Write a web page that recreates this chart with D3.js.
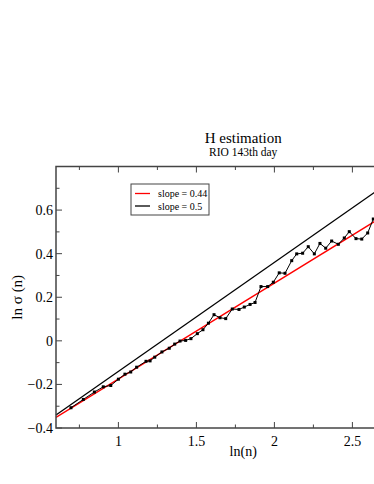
<!DOCTYPE html>
<html>
<head>
<meta charset="utf-8">
<script src="https://cdn.jsdelivr.net/npm/d3@7"></script>
<style>
  body { margin: 0; background: #fff; overflow: hidden; }
  svg { display: block; }
</style>
</head>
<body>
<svg id="chart"></svg>
<script>
// dados (ln n , ln sigma(n))
var lnN = [0.696, 0.775, 0.846, 0.903, 0.951, 1.0, 1.042, 1.079, 1.117, 1.177, 1.203, 1.233,
  1.279, 1.326, 1.361, 1.395, 1.431, 1.465, 1.506, 1.542, 1.577, 1.613, 1.651, 1.688,
  1.730, 1.773, 1.807, 1.844, 1.876, 1.914, 1.957, 1.993, 2.031, 2.068, 2.111, 2.143,
  2.181, 2.217, 2.256, 2.292, 2.329, 2.367, 2.410, 2.448, 2.480, 2.523, 2.560, 2.598, 2.634]
var lnSigma = [-0.307, -0.269, -0.235, -0.211, -0.205, -0.176, -0.153, -0.143, -0.121, -0.094, -0.092, -0.075,
  -0.051, -0.034, -0.015, -0.001, 0.002, 0.010, 0.033, 0.051, 0.081, 0.120, 0.106, 0.102,
  0.146, 0.144, 0.155, 0.167, 0.176, 0.249, 0.249, 0.269, 0.312, 0.310, 0.368, 0.399,
  0.402, 0.432, 0.399, 0.447, 0.425, 0.458, 0.443, 0.472, 0.501, 0.469, 0.467, 0.495, 0.559]

// retas de ajuste: slope e intercepto
var retaNomes = ["slope = 0.44", "slope = 0.5"]
var retaSlope = [0.44, 0.5]
var retaIntercepto = [-0.615, -0.64]
var retaCores = ["#ff0000", "#000000"]

var xTicks = [1, 1.5, 2, 2.5, 3]
var xTickLabels = [1, 1.5, 2, 2.5]   // o 3 fica fora da janela
var yTicks = [-0.4, -0.2, 0, 0.2, 0.4, 0.6, 0.8]
var yTickLabels = [-0.4, -0.2, 0, 0.2, 0.4, 0.6]

const width = 374
const height = 484
const fonte = "'Liberation Serif', 'DejaVu Serif', serif"

var svg = d3.select("#chart").attr("width", width).attr("height", height)

// area do grafico (a borda direita fica fora da janela)
var esq = 56, dir = 430.4, topo = 166.5, base = 428

var x = d3.scaleLinear().domain([0.6, 3.0]).range([esq, dir])
var y = d3.scaleLinear().domain([-0.4, 0.8]).range([base, topo])

var cinza = "#444"

// ticks das bordas
function ticksX(yPos, dirTick) {
    var g = svg.append("g")
    g.selectAll("line.maj").data(xTicks).join("line")
        .attr("x1", d => x(d)).attr("x2", d => x(d))
        .attr("y1", yPos).attr("y2", yPos + dirTick * 6)
        .attr("stroke", cinza).attr("stroke-width", 1)
    g.selectAll("line.min").data(xTicks.map(d => d - 0.25)).join("line")
        .attr("x1", d => x(d)).attr("x2", d => x(d))
        .attr("y1", yPos).attr("y2", yPos + dirTick * 3.5)
        .attr("stroke", cinza).attr("stroke-width", 1)
}
function ticksY(xPos, dirTick) {
    var g = svg.append("g")
    g.selectAll("line.maj").data(yTicks).join("line")
        .attr("y1", d => y(d)).attr("y2", d => y(d))
        .attr("x1", xPos).attr("x2", xPos + dirTick * 6)
        .attr("stroke", cinza).attr("stroke-width", 1)
    g.selectAll("line.min").data(yTicks.slice(1).map(d => d - 0.1)).join("line")
        .attr("y1", d => y(d)).attr("y2", d => y(d))
        .attr("x1", xPos).attr("x2", xPos + dirTick * 3.5)
        .attr("stroke", cinza).attr("stroke-width", 1)
}
ticksX(base, -1)
ticksX(topo, 1)
ticksY(esq, 1)
ticksY(dir, -1)

// retas
var xs = [0.6, 3.0]
retaSlope.forEach(function(s, i) {
    svg.append("path")
        .datum(xs.map(v => [v, s * v + retaIntercepto[i]]))
        .attr("d", d3.line().x(d => x(d[0])).y(d => y(d[1])))
        .attr("fill", "none")
        .attr("stroke", retaCores[i])
        .attr("stroke-width", 1.3)
})

// serie de dados
var pontos = lnN.map((v, i) => [v, lnSigma[i]])
svg.append("path")
    .datum(pontos)
    .attr("d", d3.line().x(d => x(d[0])).y(d => y(d[1])))
    .attr("fill", "none")
    .attr("stroke", "#000")
    .attr("stroke-width", 1)
svg.append("g").selectAll("rect").data(pontos).join("rect")
    .attr("x", d => x(d[0]) - 1.5)
    .attr("y", d => y(d[1]) - 1.5)
    .attr("width", 3).attr("height", 3)
    .attr("fill", "#000")

// moldura
svg.append("rect")
    .attr("x", esq).attr("y", topo)
    .attr("width", dir - esq).attr("height", base - topo)
    .attr("fill", "none").attr("stroke", cinza).attr("stroke-width", 1.5)

// rotulos dos ticks
svg.append("g").selectAll("text").data(xTickLabels).join("text")
    .attr("x", d => x(d)).attr("y", base + 18)
    .attr("text-anchor", "middle")
    .style("font-family", fonte).style("font-size", "14px")
    .text(d => d)
svg.append("g").selectAll("text").data(yTickLabels).join("text")
    .attr("x", esq - 3).attr("y", d => y(d) + 5)
    .attr("text-anchor", "end")
    .style("font-family", fonte).style("font-size", "14px")
    .text(d => d3.format("")(d))

// titulos
svg.append("text").attr("x", x(1.8)).attr("y", 143)
    .attr("text-anchor", "middle")
    .style("font-family", fonte).style("font-size", "15px")
    .text("H estimation")
svg.append("text").attr("x", x(1.8)).attr("y", 156)
    .attr("text-anchor", "middle")
    .style("font-family", fonte).style("font-size", "11.5px")
    .text("RIO 143th day")
svg.append("text").attr("x", x(1.8)).attr("y", 456)
    .attr("text-anchor", "middle")
    .style("font-family", fonte).style("font-size", "14px")
    .text("ln(n)")
svg.append("text")
    .attr("transform", "translate(22," + y(0.2) + ") rotate(-90)")
    .attr("text-anchor", "middle")
    .style("font-family", fonte).style("font-size", "15px")
    .text("ln  σ (n)")

// legenda
var leg = svg.append("g")
leg.append("rect")
    .attr("x", 131).attr("y", 184).attr("width", 78).attr("height", 31)
    .attr("fill", "#fff").attr("stroke", cinza).attr("stroke-width", 1)
retaNomes.forEach(function(nome, i) {
    var ly = 193.5 + i * 12.5
    leg.append("line")
        .attr("x1", 135).attr("x2", 150).attr("y1", ly).attr("y2", ly)
        .attr("stroke", retaCores[i]).attr("stroke-width", 1.3)
    leg.append("text")
        .attr("x", 158).attr("y", ly + 3.5)
        .style("font-family", fonte).style("font-size", "10px")
        .text(nome)
})
</script>
</body>
</html>
